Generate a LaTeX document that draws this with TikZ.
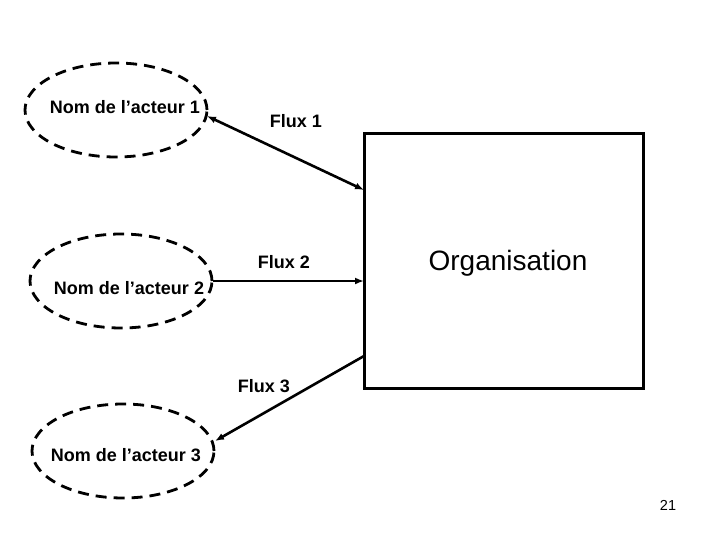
\documentclass[tikz,border=0pt]{standalone}
\usepackage{fontspec}
\setmainfont{Liberation Sans}
\usetikzlibrary{shapes.geometric,arrows.meta}
\begin{document}
\begin{tikzpicture}[x=1pt,y=-1pt,
  actor/.style={ellipse,draw,line width=2.8pt,dash pattern=on 11pt off 7pt,minimum width=182pt,minimum height=94pt,inner sep=0pt},
  lbl/.style={font=\bfseries\fontsize{18}{21}\selectfont,inner sep=0pt},
  org/.style={draw,line width=2.8pt,minimum width=279pt,minimum height=255pt,inner sep=0pt},
  flow/.style={line width=2.6pt,-{Latex[length=9pt,width=7pt]}},
  bflow/.style={line width=2.6pt,{Latex[length=9pt,width=7pt]}-{Latex[length=9pt,width=7pt]}}]
\useasboundingbox (0,0) rectangle (720,540);
\node[actor] (e1) at (116,110) {};
\node[actor] (e2) at (121,281) {};
\node[actor] (e3) at (123,451) {};
\node[lbl] (t1) at (125,107) {Nom de l’acteur 1};
\node[lbl] (t2) at (129,288) {Nom de l’acteur 2};
\node[lbl] (t3) at (126,455) {Nom de l’acteur 3};
\node[org] (box) at (504,261) {};
\node[font=\fontsize{28}{32}\selectfont,inner sep=0pt] (ot) at (508,263) {Organisation};
\node[lbl] (f1) at (296,121) {Flux 1};
\node[lbl] (f2) at (284,262) {Flux 2};
\node[lbl] (f3) at (264,386) {Flux 3};
\coordinate (b1) at (364,190);
\coordinate (b2) at (364,281);
\coordinate (b3) at (364,356);
\coordinate (a1) at (207,116);
\coordinate (a2) at (213,281);
\coordinate (a3) at (215,441);
\draw[bflow] (a1) -- (b1);
\draw[flow] (a2) -- (b2);
\draw[flow] (b3) -- (a3);
\node[font=\fontsize{14.5}{17}\selectfont,inner sep=0pt] (pg) at (668,505) {21};
\end{tikzpicture}
\end{document}
